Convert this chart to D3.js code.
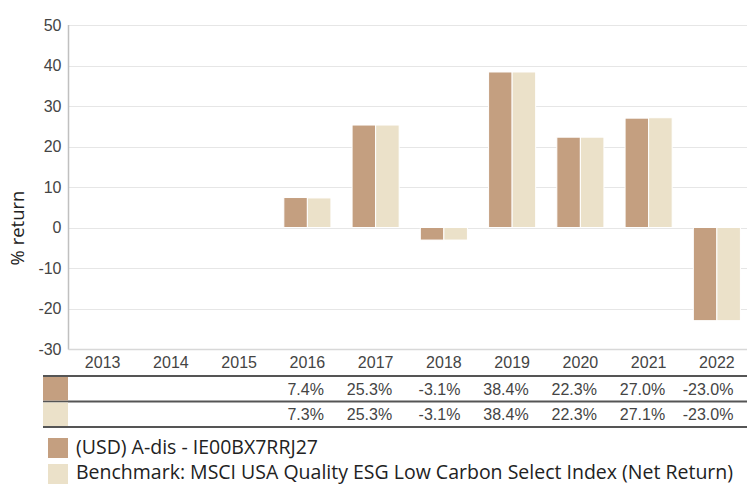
<!DOCTYPE html>
<html><head><meta charset="utf-8">
<script src="https://cdn.jsdelivr.net/npm/d3@7"></script>
<style>body{margin:0;background:#fff}</style>
</head><body>
<svg id="c" width="747" height="484"></svg>
<script>
const years = ["2013","2014","2015","2016","2017","2018","2019","2020","2021","2022"];
const fundValues = [null,null,null,7.4,25.3,-3.1,38.4,22.3,27.0,-23.0];
const benchValues = [null,null,null,7.3,25.3,-3.1,38.4,22.3,27.1,-23.0];
const yTicks = [50,40,30,20,10,0,-10,-20,-30];
const seriesNames = ["(USD) A-dis - IE00BX7RRJ27","Benchmark: MSCI USA Quality ESG Low Carbon Select Index (Net Return)"];
const colors = ["#c49f80","#ebe1c9"];

(function(){
const svg = d3.select("#c");
const pLeft = 68.5, pRight = 751, pTop = 25, pBottom = 349;
const x = d3.scaleBand().domain(years).range([pLeft, pRight]).paddingInner(0.31).paddingOuter(0.155);
const y = d3.scaleLinear().domain([-30,50]).range([pBottom, pTop]);
const sub = d3.scaleBand().domain([0,1]).range([0, x.bandwidth()]);
const numFont = "Liberation Sans, Arial, sans-serif";

svg.append("g").selectAll("line").data(yTicks).join("line")
  .attr("x1", pLeft).attr("x2", 747).attr("y1", d=>Math.round(y(d))+0.5).attr("y2", d=>Math.round(y(d))+0.5)
  .attr("stroke", "#e6e6e6").attr("stroke-width", 1);

const yAxis = d3.axisLeft(y).tickValues(yTicks).tickSize(0).tickPadding(7).tickFormat(d => String(d));
const ya = svg.append("g").attr("transform", `translate(${pLeft},0)`).call(yAxis);
ya.select(".domain").remove();
ya.selectAll("text").attr("font-family",numFont).attr("font-size",16).attr("fill","#444");

const series = [fundValues, benchValues];
series.forEach((vals, si) => {
  svg.append("g").selectAll("rect").data(years.map((yr,i)=>({yr, v: vals[i]})).filter(d=>d.v!==null)).join("rect")
    .attr("x", d => x(d.yr) + sub(si))
    .attr("width", sub.bandwidth())
    .attr("y", d => y(Math.max(0,d.v)))
    .attr("height", d => Math.abs(y(d.v) - y(0)))
    .attr("fill", colors[si]).attr("stroke","#fff").attr("stroke-width",1);
});

svg.append("line").attr("x1", pLeft).attr("x2", pLeft).attr("y1", pTop).attr("y2", pBottom+0.5).attr("stroke","#c0c0c0").attr("stroke-width",1.5);
svg.append("line").attr("x1", pLeft).attr("x2", 747).attr("y1", pBottom+0.5).attr("y2", pBottom+0.5).attr("stroke","#d8d8d8").attr("stroke-width",1.5);

const xAxis = d3.axisBottom(x).tickSize(0).tickPadding(8);
const xa = svg.append("g").attr("transform", `translate(0,${pBottom})`).call(xAxis);
xa.select(".domain").remove();
xa.selectAll("text").attr("font-family",numFont).attr("font-size",16).attr("fill","#444");

const rowY = [376, 401.5, 427];
rowY.forEach(ry => svg.append("line").attr("x1",43).attr("x2",747).attr("y1",ry).attr("y2",ry).attr("stroke","#555").attr("stroke-width",2));
series.forEach((vals, si) => {
  svg.append("rect").attr("x",43).attr("y",rowY[si]+1).attr("width",25).attr("height",rowY[si+1]-rowY[si]-2).attr("fill",colors[si]);
  svg.append("g").selectAll("text").data(years.map((yr,i)=>({yr,v:vals[i]})).filter(d=>d.v!==null)).join("text")
    .attr("x", d => x(d.yr) + x.bandwidth()/2 + 16.5)
    .attr("y", (rowY[si]+rowY[si+1])/2 + 6)
    .attr("text-anchor","end")
    .attr("font-family",numFont).attr("font-size",16).attr("fill","#444")
    .text(d => d.v.toFixed(1) + "%");
});

svg.append("text").attr("transform","translate(24,228) rotate(-90)").attr("text-anchor","middle")
  .attr("font-family","Open Sans, sans-serif").attr("font-size",18.5).attr("fill","#222").text("% return");

seriesNames.forEach((n, i) => {
  const ly = 438 + i*26;
  svg.append("rect").attr("x",48).attr("y",ly).attr("width",20).attr("height",20).attr("fill",colors[i]);
  svg.append("text").attr("x",76).attr("y",ly+16 - i*1.5).attr("font-family","Open Sans, sans-serif").attr("font-size",19.5).attr("fill","#222").text(n);
});
})();
</script>
</body></html>
